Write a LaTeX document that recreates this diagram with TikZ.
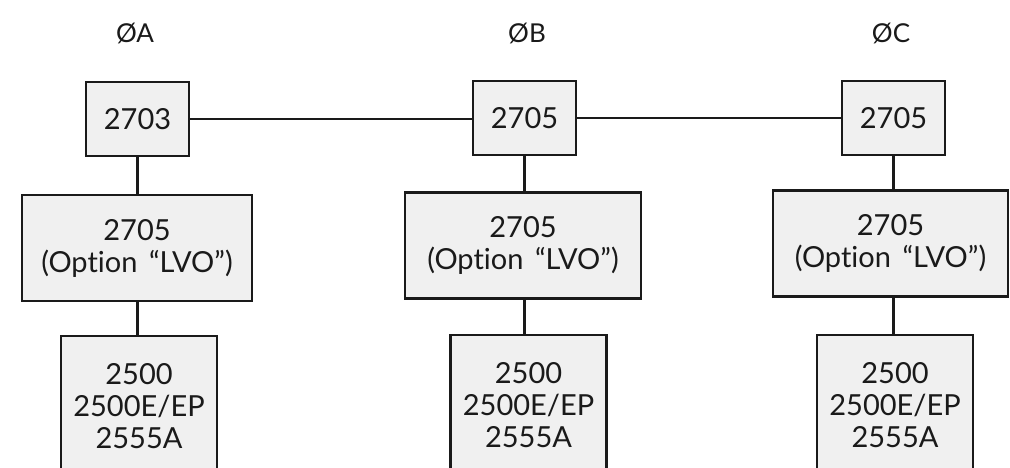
\documentclass[tikz,border=0pt]{standalone}
\usepackage{fontspec}
\setmainfont{Lato}[Ligatures={TeX,NoCommon}]
\usetikzlibrary{positioning}
\definecolor{boxgrey}{HTML}{F0F0F0}
\definecolor{inkc}{HTML}{1A1A1A}

\begin{document}
\begin{tikzpicture}[x=0.5pt, y=-0.5pt,
    unit/.style={draw=inkc, line width=1.4pt, fill=boxgrey, align=center, font=\fontsize{14.5}{16}\selectfont, text=inkc, inner sep=0pt},
    topunit/.style={unit, minimum width=51.5pt, minimum height=37pt},
    midunit/.style={unit, minimum width=116pt, minimum height=53pt},
    botunit/.style={unit, minimum width=78pt, minimum height=70pt},
    phase/.style={font=\fontsize{13}{15}\selectfont, text=inkc},
    wire/.style={line width=1.4pt, draw=inkc}]
  \useasboundingbox[fill=white] (0,0) rectangle (1010,467);
  % phase labels
  \node[phase] (phA) at (135,33) {ØA};
  \node[phase] (phB) at (527,33) {ØB};
  \node[phase] (phC) at (891,33) {ØC};
  % top units
  \node[topunit] (topA) at (137.5,119) {2703};
  \node[topunit] (topB) at (524.5,118) {2705};
  \node[topunit] (topC) at (893.5,118) {2705};
  % option units
  \node[midunit, minimum width=115pt] (midA) at (137,248) {2705\\(Option\hspace{0.4em}``LVO'')};
  \node[midunit, minimum width=118pt] (midB) at (523,245.5) {2705\\(Option\hspace{0.4em}``LVO'')};
  \node[midunit, minimum width=117.5pt] (midC) at (890.5,243.5) {2705\\(Option\hspace{0.4em}``LVO'')};
  % controllers
  \node[botunit] (botA) at (139,406) {2500\\2500E/EP\\2555A};
  \node[botunit] (botB) at (528.5,405) {2500\\2500E/EP\\2555A};
  \node[botunit] (botC) at (895,405) {2500\\2500E/EP\\2555A};
  % links
  \draw[wire] (topA.east) -- (topA.east -| topB.west);
  \draw[wire] (topB.east) -- (topB.east -| topC.west);
  \foreach \ph in {A,B,C} {
    \draw[wire] (top\ph.south) -- (top\ph.south |- mid\ph.north);
    \draw[wire] (top\ph.south |- mid\ph.south) -- (top\ph.south |- bot\ph.north);
  }
\end{tikzpicture}
\end{document}
